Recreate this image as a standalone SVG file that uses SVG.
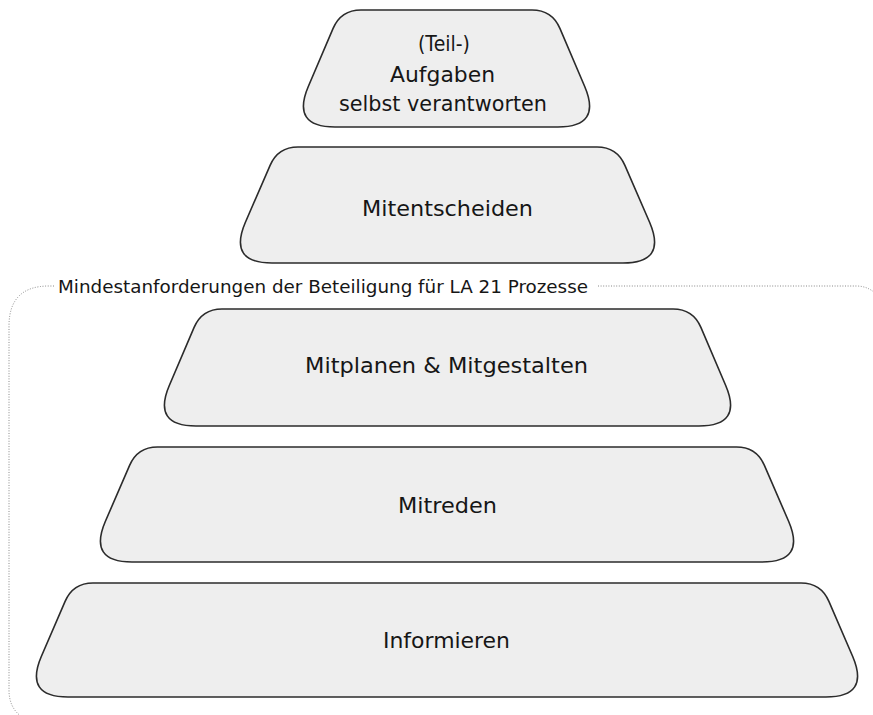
<svg xmlns="http://www.w3.org/2000/svg" width="873" height="715" viewBox="0 0 873 715">
<style>
.box{fill:#eeeeee;stroke:#2b2b2b;stroke-width:1.6}
.t{font-family:"DejaVu Sans","Liberation Sans",sans-serif;font-size:22px;fill:#161616}
.lbl{font-family:"DejaVu Sans","Liberation Sans",sans-serif;font-size:18px;fill:#161616}
.frame{fill:none;stroke:#888888;stroke-width:1;stroke-dasharray:1 1.6}
</style>
<rect width="873" height="715" fill="#ffffff"/>
<g id="frame">
<path class="frame" d="M 54 286 L 49 286 Q 9 286 9 326 L 9 690 Q 9 708 22 717"/>
<path class="frame" d="M 598 286 L 856 286 Q 868 286 876 294"/>
<text class="lbl" x="58" y="293" textLength="530" lengthAdjust="spacingAndGlyphs">Mindestanforderungen der Beteiligung für LA 21 Prozesse</text>
</g>
<g id="connectors"></g>
<g id="n1">
<path class="box" d="M 361 10 L 532 10 Q 552 10 559.9 28.4 L 584.7 86.5 Q 602 127 558 127 L 335 127 Q 291 127 308.3 86.5 L 333.1 28.4 Q 341 10 361 10 Z"/>
<text class="t" x="418" y="51" textLength="52" lengthAdjust="spacingAndGlyphs">(Teil-)</text>
<text class="t" x="390" y="82" textLength="105" lengthAdjust="spacingAndGlyphs">Aufgaben</text>
<text class="t" x="339" y="111" textLength="208" lengthAdjust="spacingAndGlyphs">selbst verantworten</text>
</g>
<g id="n2">
<path class="box" d="M 298 147 L 597 147 Q 617 147 624.9 165.4 L 649.7 222.5 Q 667 263 623 263 L 272 263 Q 228 263 245.3 222.5 L 270.1 165.4 Q 278 147 298 147 Z"/>
<text class="t" x="362" y="216" textLength="171" lengthAdjust="spacingAndGlyphs">Mitentscheiden</text>
</g>
<g id="n3">
<path class="box" d="M 222 309 L 673 309 Q 693 309 700.9 327.4 L 725.7 385.5 Q 743 426 699 426 L 196 426 Q 152 426 169.3 385.5 L 194.1 327.4 Q 202 309 222 309 Z"/>
<text class="t" x="305" y="373" textLength="283" lengthAdjust="spacingAndGlyphs">Mitplanen &amp; Mitgestalten</text>
</g>
<g id="n4">
<path class="box" d="M 157.5 447 L 736.5 447 Q 756.5 447 764.4 465.4 L 788.7 521.5 Q 806 562 762 562 L 132 562 Q 88 562 105.3 521.5 L 129.6 465.4 Q 137.5 447 157.5 447 Z"/>
<text class="t" x="398" y="513" textLength="99" lengthAdjust="spacingAndGlyphs">Mitreden</text>
</g>
<g id="n5">
<path class="box" d="M 93 583 L 801 583 Q 821 583 828.9 601.4 L 852.7 656.5 Q 870 697 826 697 L 68 697 Q 24 697 41.3 656.5 L 65.1 601.4 Q 73 583 93 583 Z"/>
<text class="t" x="383" y="648" textLength="127" lengthAdjust="spacingAndGlyphs">Informieren</text>
</g>
</svg>
